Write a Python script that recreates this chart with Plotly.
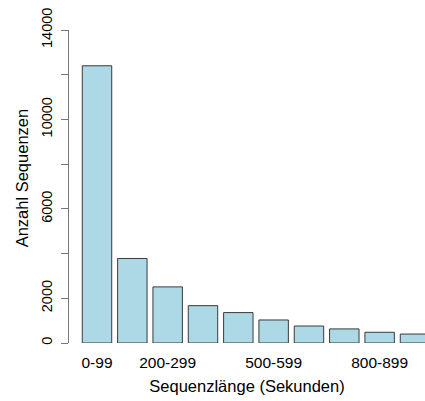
import plotly.graph_objects as go

# Number of sequences per length bin (seconds)
length_bins = ["0-99", "100-199", "200-299", "300-399", "400-499",
               "500-599", "600-699", "700-799", "800-899", "900-999"]
sequence_counts = [12400, 3780, 2510, 1670, 1360, 1030, 760, 630, 480, 400]

# Axis labelling
x_tick_labels = ["0-99", "200-299", "500-599", "800-899"]
y_tick_values = [0, 2000, 4000, 6000, 8000, 10000, 12000, 14000]
y_tick_labels = ["0", "2000", "", "6000", "", "10000", "", "14000"]

FONT = "Liberation Sans, Arial, sans-serif"

fig = go.Figure(
    go.Bar(
        x=length_bins,
        y=sequence_counts,
        marker=dict(color="#ADD8E6", line=dict(color="#3a3a3a", width=1)),
        hoverinfo="x+y",
    )
)

fig.update_layout(
    width=425,
    height=401,
    margin=dict(l=69, r=0, t=30, b=58),
    paper_bgcolor="white",
    plot_bgcolor="white",
    bargap=1 / 6,
    showlegend=False,
    font=dict(family=FONT, color="#000000"),
    annotations=[
        dict(
            text="Anzahl Sequenzen",
            xref="paper", yref="paper",
            x=-0.132, y=0.526,
            xanchor="center", yanchor="middle",
            textangle=-90,
            showarrow=False,
            font=dict(size=16.5, family=FONT),
        )
    ],
)

fig.update_xaxes(
    type="category",
    range=[-0.7925, 9.284],
    showline=False,
    showgrid=False,
    zeroline=False,
    ticks="",
    tickmode="array",
    tickvals=x_tick_labels,
    ticktext=x_tick_labels,
    tickfont=dict(size=15.5, family=FONT),
    ticklabelstandoff=8,
    title=dict(text="Sequenzlänge (Sekunden)", font=dict(size=16.5, family=FONT), standoff=10),
)

fig.update_yaxes(
    range=[0, 14000],
    showline=True,
    linecolor="#777777",
    linewidth=1,
    showgrid=False,
    zeroline=False,
    ticks="outside",
    ticklen=7,
    tickcolor="#777777",
    tickwidth=1,
    tickmode="array",
    tickvals=y_tick_values,
    ticktext=y_tick_labels,
    tickangle=-90,
    tickfont=dict(size=14.5, family=FONT),
    ticklabelstandoff=3,
)

fig.write_html("out.html")
